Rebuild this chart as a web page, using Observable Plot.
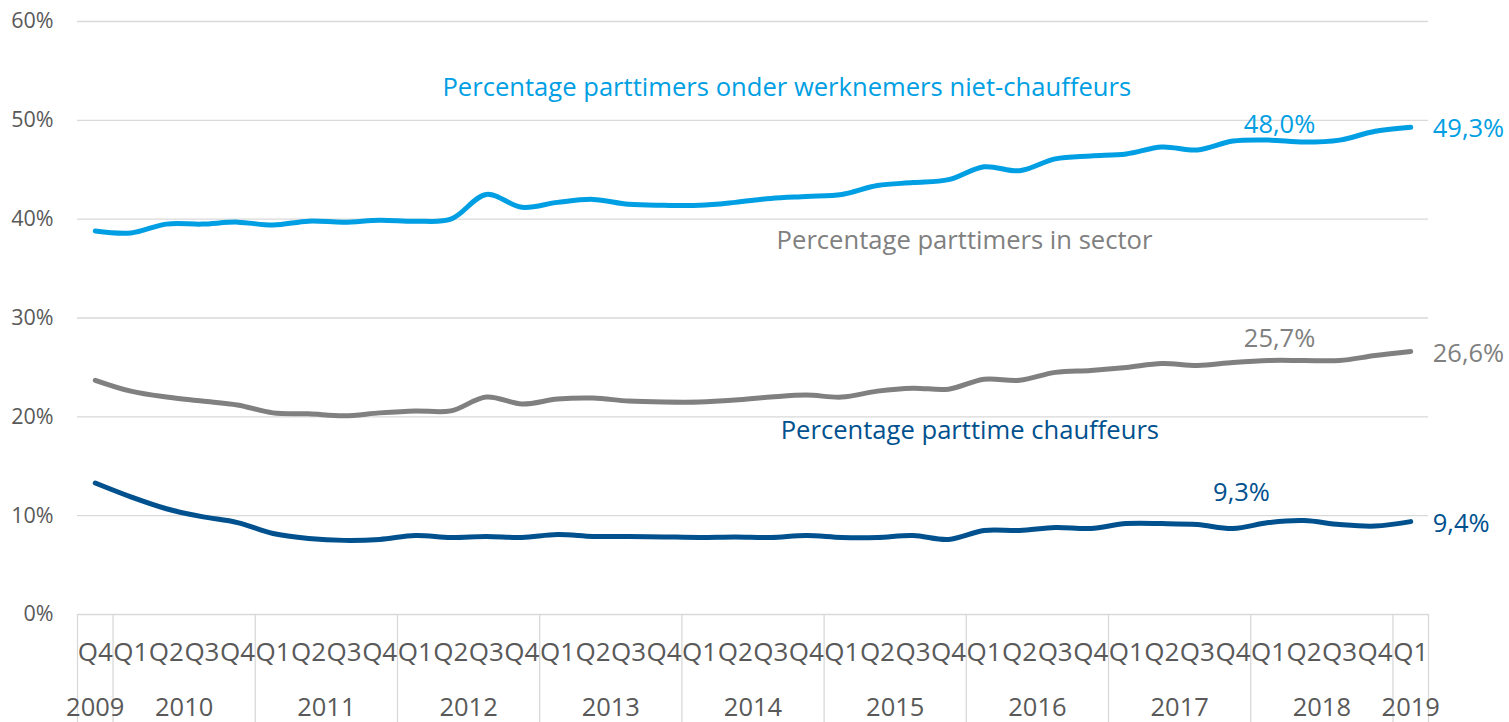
<!DOCTYPE html>
<html>
<head>
<meta charset="utf-8">
<script src="https://cdn.jsdelivr.net/npm/d3@7"></script>
<script src="https://cdn.jsdelivr.net/npm/@observablehq/plot@0.6"></script>
<style>
  html, body { margin: 0; padding: 0; background: #fff; }
  #chart svg { display: block; font-family: "Open Sans", sans-serif; }
</style>
</head>
<body>
<div id="chart"></div>
<script>
// Quarter labels (Q4 2009 … Q1 2019)
const quarters = ["Q4",
  "Q1","Q2","Q3","Q4", "Q1","Q2","Q3","Q4", "Q1","Q2","Q3","Q4",
  "Q1","Q2","Q3","Q4", "Q1","Q2","Q3","Q4", "Q1","Q2","Q3","Q4",
  "Q1","Q2","Q3","Q4", "Q1","Q2","Q3","Q4", "Q1","Q2","Q3","Q4",
  "Q1"];
const years = ["2009","2010","2011","2012","2013","2014","2015","2016","2017","2018","2019"];
const yearCenters = [0, 2.5, 6.5, 10.5, 14.5, 18.5, 22.5, 26.5, 30.5, 34.5, 37];
const yearBoundaries = [-0.5, 0.5, 4.5, 8.5, 12.5, 16.5, 20.5, 24.5, 28.5, 32.5, 36.5, 37.5];

// Percentage parttimers onder werknemers niet-chauffeurs
const nietChauffeurs = [38.8, 38.6, 39.5, 39.5, 39.7, 39.4, 39.8, 39.7, 39.9, 39.8,
  40.0, 42.5, 41.2, 41.7, 42.0, 41.5, 41.4, 41.4, 41.7, 42.1,
  42.3, 42.5, 43.4, 43.7, 44.0, 45.3, 44.9, 46.1, 46.4, 46.6,
  47.3, 47.0, 47.9, 48.0, 47.8, 48.0, 48.9, 49.3];
// Percentage parttimers in sector
const inSector = [23.7, 22.6, 22.0, 21.6, 21.2, 20.4, 20.3, 20.1, 20.4, 20.6,
  20.6, 22.0, 21.3, 21.8, 21.9, 21.6, 21.5, 21.5, 21.7, 22.0,
  22.2, 22.0, 22.6, 22.9, 22.8, 23.8, 23.7, 24.5, 24.7, 25.0,
  25.4, 25.2, 25.5, 25.7, 25.7, 25.7, 26.2, 26.6];
// Percentage parttime chauffeurs
const chauffeurs = [13.3, 11.9, 10.7, 9.9, 9.3, 8.2, 7.7, 7.5, 7.6, 8.0,
  7.8, 7.9, 7.8, 8.1, 7.9, 7.9, 7.85, 7.8, 7.85, 7.8,
  8.0, 7.8, 7.8, 8.0, 7.6, 8.5, 8.5, 8.8, 8.7, 9.2,
  9.2, 9.1, 8.7, 9.3, 9.5, 9.1, 8.95, 9.4];

const seriesNames = [
  "Percentage parttimers onder werknemers niet-chauffeurs",
  "Percentage parttimers in sector",
  "Percentage parttime chauffeurs"
];
const colors = ["#009FE3", "#808080", "#00518E"];
const seriesValues = [nietChauffeurs, inSector, chauffeurs];

// Series name label anchors (quarter index, value %)
const titleX = [19.45, 24.45, 24.6];
const titleY = [53.3, 37.85, 18.6];

const rows = seriesValues.flatMap((vals, s) =>
  vals.map((v, i) => ({ i, v: v / 100, s })));

const fmt = v => d3.format(".1f")(v).replace(".", ",") + "%";

const lastIdx = quarters.length - 1;
const refIdx = 33; // Q1 2018
const endLabels = seriesValues.map((vals, s) => ({ i: lastIdx, v: vals[lastIdx] / 100, s, t: fmt(vals[lastIdx]) }));
const refLabels = seriesValues.map((vals, s) => ({ i: refIdx, v: vals[refIdx] / 100, s, t: fmt(vals[refIdx]) }));
const titles = seriesNames.map((n, s) => ({ i: titleX[s], v: titleY[s] / 100, s, t: n }));

const refOffsets = [[11, -15], [11, -22], [-27, -30]];

const plot = Plot.plot({
  width: 1509,
  height: 722,
  marginLeft: 77,
  marginRight: 81,
  marginTop: 21,
  marginBottom: 108,
  x: { type: "linear", domain: [-0.5, 37.5] },
  y: { domain: [0, 0.6] },
  style: { fontFamily: "Open Sans, sans-serif", background: "#fff" },
  marks: [
    Plot.gridY([0, 0.1, 0.2, 0.3, 0.4, 0.5, 0.6], { stroke: "#d9d9d9", strokeOpacity: 1, strokeWidth: 1.3 }),
    Plot.axisY([0, 0.1, 0.2, 0.3, 0.4, 0.5, 0.6], {
      tickSize: 0, tickPadding: 24, fontSize: 21.5, fill: "#595959",
      tickFormat: d => Math.round(d * 100) + "%", label: null
    }),
    Plot.axisX(yearBoundaries, {
      tickSize: 108, tickFormat: () => "", stroke: "#d9d9d9", strokeWidth: 1.3, label: null
    }),
    Plot.axisX(d3.range(quarters.length), {
      tickSize: 0, tickPadding: 28, fontSize: 26, fill: "#595959",
      tickFormat: i => quarters[i], label: null
    }),
    Plot.axisX(yearCenters, {
      tickSize: 0, tickPadding: 83, fontSize: 25.5, fill: "#595959",
      tickFormat: (d, k) => years[k], label: null
    }),
    Plot.line(rows, {
      x: "i", y: "v", z: "s", stroke: d => colors[d.s],
      strokeWidth: 5, curve: "catmull-rom", strokeLinecap: "round"
    }),
    Plot.text(titles, {
      x: "i", y: "v", text: "t", fill: d => colors[d.s], fontSize: 25.6, textAnchor: "middle"
    }),
    Plot.text(endLabels, {
      x: "i", y: "v", text: "t", fill: d => colors[d.s], fontSize: 25.5,
      textAnchor: "start", dx: 22, dy: 2
    }),
    ...refLabels.map((d, s) => Plot.text([d], {
      x: "i", y: "v", text: "t", fill: colors[s], fontSize: 25.5,
      textAnchor: "middle", dx: refOffsets[s][0], dy: refOffsets[s][1]
    }))
  ]
});
document.getElementById("chart").appendChild(plot);
</script>
</body>
</html>
